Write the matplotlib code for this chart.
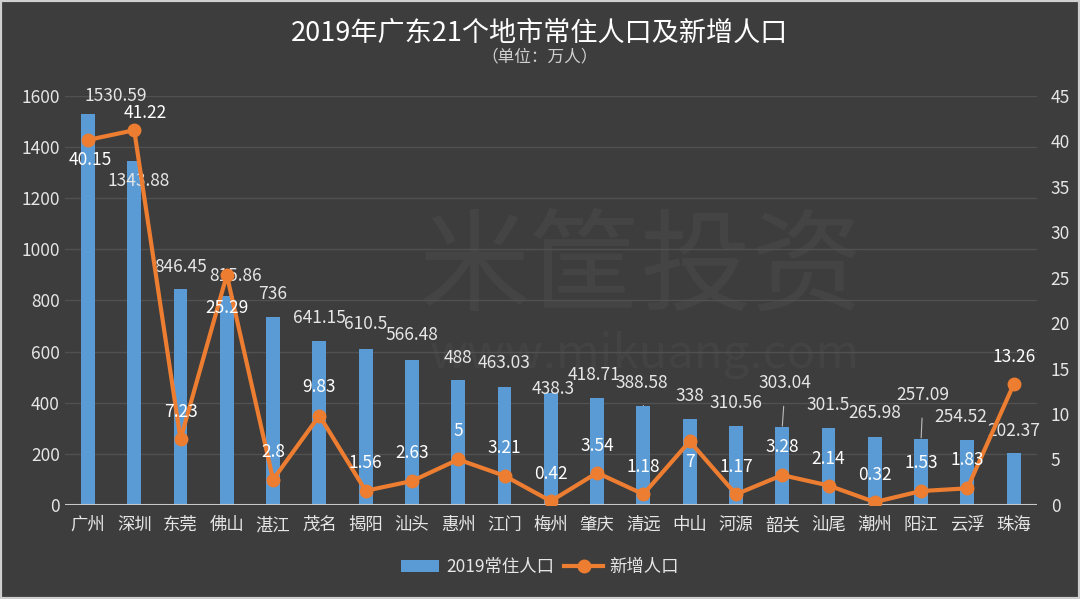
import matplotlib
matplotlib.use("Agg")
import matplotlib.pyplot as plt
from matplotlib.patches import Rectangle

plt.rcParams['font.family'] = ['Noto Sans CJK SC', 'DejaVu Sans']

cities = ['广州', '深圳', '东莞', '佛山', '湛江', '茂名', '揭阳', '汕头', '惠州', '江门', '梅州',
          '肇庆', '清远', '中山', '河源', '韶关', '汕尾', '潮州', '阳江', '云浮', '珠海']
population = [1530.59, 1343.88, 846.45, 815.86, 736, 641.15, 610.5, 566.48, 488, 463.03, 438.3,
              418.71, 388.58, 338, 310.56, 303.04, 301.5, 265.98, 257.09, 254.52, 202.37]
new_pop = [40.15, 41.22, 7.23, 25.29, 2.8, 9.83, 1.56, 2.63, 5, 3.21, 0.42,
           3.54, 1.18, 7, 1.17, 3.28, 2.14, 0.32, 1.53, 1.83, 13.26]

# label offsets in pixels (dx, dy) relative to bar top / line point
bar_off = [(28, 18), (4, -20), (0, 22), (9, 20), (0, 23), (0, 23), (0, 25), (0, 25), (0, 22),
           (0, 24), (2, 4), (-3, 23), (-2, 23), (0, 23), (0, 23), (3, 44), (0, 23), (0, 24),
           (2, 44), (-7, 23), (0, 22)]
line_off = [(2, -20), (11, 17), (0, 27), (0, -33), (0, 28), (0, 29), (0, 28), (0, 28), (0, 28),
            (0, 28), (0, 27), (0, 27), (0, 27), (0, -21), (0, 27), (0, 28), (0, 27), (0, 27),
            (0, 28), (0, 28), (0, 27)]
leader = [12, 15, 18]  # bars with a leader line

BG = '#3d3d3d'
BLUE = '#5b9bd5'
ORANGE = '#ed7d31'
TXT = '#e6e6e6'

fig = plt.figure(figsize=(10.8, 5.99), dpi=100, facecolor=BG)
fig.patches.append(Rectangle((0, 0), 1, 1, transform=fig.transFigure, fill=False,
                             edgecolor='#cfcfcf', linewidth=3))
ax = fig.add_axes([0.060, 0.157, 0.900, 0.683])
ax.set_facecolor(BG)

# faint watermark, behind the data
ax.text(0.593, 0.55, '米筐投资', fontsize=80, color='#444444', ha='center', va='center',
        transform=fig.transFigure, zorder=0.5)
ax.text(0.597, 0.407, 'www.mikuang.com', fontsize=34, color='#434343', ha='center', va='center',
        transform=fig.transFigure, zorder=0.5)

x = list(range(len(cities)))
ax.bar(x, population, width=0.3, color=BLUE, zorder=2, label='2019常住人口')
ax.set_ylim(0, 1600)
ax.set_xlim(-0.5, len(cities) - 0.5)
ax.set_yticks(range(0, 1601, 200))
ax.grid(axis='y', color='#515151', linewidth=1)
ax.set_axisbelow(True)
ax.axhline(0, color='#c8c8c8', linewidth=1.5, zorder=3)
for s in ax.spines.values():
    s.set_visible(False)
ax.set_xticks(x)
ax.set_xticklabels(cities, fontsize=12.5, color=TXT)
ax.tick_params(axis='both', length=0, labelsize=12.5, colors=TXT)
ax.tick_params(axis='x', pad=8)

for i, v in enumerate(population):
    dx, dy = bar_off[i]
    ax.annotate(f'{v:g}', (i, v), xytext=(dx, dy), textcoords='offset pixels',
                ha='center', va='center', fontsize=12.5, color=TXT, zorder=4,
                arrowprops=dict(arrowstyle='-', color='#bdbdbd', lw=0.8, shrinkA=8, shrinkB=1)
                if i in leader else None)

ax2 = ax.twinx()
ax2.plot(x, new_pop, color=ORANGE, linewidth=3, marker='o', markersize=9, zorder=5, label='新增人口')
ax2.set_ylim(0, 45)
ax2.set_yticks(range(0, 46, 5))
ax2.tick_params(axis='y', length=0, labelsize=12.5, colors=TXT, pad=10)
for s in ax2.spines.values():
    s.set_visible(False)

for i, v in enumerate(new_pop):
    dx, dy = line_off[i]
    ax2.annotate(f'{v:g}', (i, v), xytext=(dx, dy), textcoords='offset pixels',
                 ha='center', va='center', fontsize=12.5, color='white', zorder=6)

fig.text(0.5, 0.945, '2019年广东21个地市常住人口及新增人口', fontsize=19.5, color='white',
         ha='center', va='center')
fig.text(0.5, 0.905, '（单位：万人）', fontsize=12, color='#d0d0d0', ha='center', va='center')

h1, l1 = ax.get_legend_handles_labels()
h2, l2 = ax2.get_legend_handles_labels()
leg = fig.legend(h1 + h2, l1 + l2, loc='center', bbox_to_anchor=(0.5, 0.053), ncol=2,
                 frameon=False, fontsize=12.5, handlelength=2.2, columnspacing=0.6,
                 handletextpad=0.4)
for t in leg.get_texts():
    t.set_color(TXT)

fig.savefig('out.png', dpi=100, facecolor=BG)
